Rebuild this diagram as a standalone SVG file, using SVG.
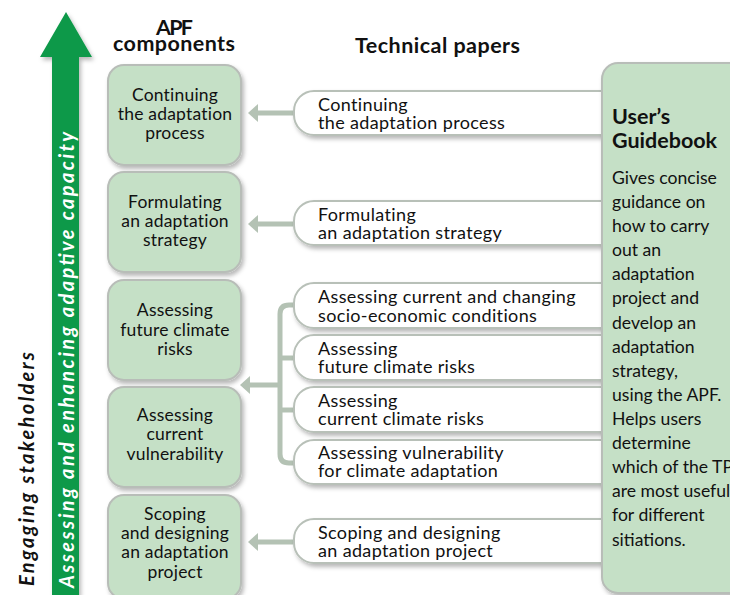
<svg xmlns="http://www.w3.org/2000/svg" width="730" height="595" viewBox="0 0 730 595">
<defs>
<filter id="sh" x="-10%" y="-10%" width="130%" height="140%">
<feDropShadow dx="2" dy="3" stdDeviation="2" flood-color="#000" flood-opacity="0.28"/>
</filter>
<marker id="ah" markerWidth="4" markerHeight="4" refX="1" refY="2" orient="auto" markerUnits="strokeWidth">
<path d="M0,0.2 L2,2 L0,3.8 Z" fill="#b4c2b4"/>
</marker>
<style>
text{font-family:Lato,"Liberation Sans",sans-serif;fill:#111}
.apf{fill:#c5e0c6;stroke:#b8bdb8;stroke-width:2}
.apf-t{font-size:17.5px;letter-spacing:0.2px;text-anchor:middle}
.tp{fill:#fff;stroke:#b8c0b8;stroke-width:2}
.tp-t{font-size:18px;letter-spacing:0.35px}
.hd{font-size:21.5px;font-weight:bold}
.con{fill:none;stroke:#b4c2b4;stroke-width:5}
.gb-t{font-size:17.6px}
</style>
</defs>
<rect width="730" height="595" fill="#fff"/>

<g id="green-arrow">
<polygon points="66,12 92,57 79,57 79,595 52,595 52,57 40,57" fill="#11994a" filter="url(#sh)"/>
<text transform="translate(73.5,588) rotate(-90)" font-size="20" font-weight="bold" font-style="italic" style="fill:#fff" textLength="456">Assessing and enhancing adaptive capacity</text>
</g>
<g id="engaging">
<text transform="translate(34,586) rotate(-90)" font-size="20" font-weight="bold" font-style="italic" textLength="234">Engaging stakeholders</text>
</g>

<g id="headers">
<text class="hd" x="156" y="35" textLength="37">APF</text>
<text class="hd" x="113" y="51" textLength="122">components</text>
<text class="hd" x="355" y="53" textLength="165">Technical papers</text>
</g>

<g id="connectors">
<line class="con" x1="293" y1="113" x2="253" y2="113" marker-end="url(#ah)"/>
<line class="con" x1="293" y1="224" x2="253" y2="224" marker-end="url(#ah)"/>
<path class="con" d="M295,305 H289 Q280,305 280,314 V454 Q280,463 289,463 H295"/>
<line class="con" x1="280" y1="358" x2="295" y2="358"/>
<line class="con" x1="280" y1="410" x2="295" y2="410"/>
<line class="con" x1="282" y1="385" x2="245" y2="385" marker-end="url(#ah)"/>
<line class="con" x1="293" y1="542" x2="253" y2="542" marker-end="url(#ah)"/>
</g>

<g id="apf1"><rect class="apf" x="108" y="65" width="133" height="100" rx="16" filter="url(#sh)"/>
<text class="apf-t" x="175" y="101">Continuing</text><text class="apf-t" x="175" y="120">the adaptation</text><text class="apf-t" x="175" y="139">process</text></g>
<g id="apf2"><rect class="apf" x="108" y="172" width="133" height="100" rx="16" filter="url(#sh)"/>
<text class="apf-t" x="175" y="208">Formulating</text><text class="apf-t" x="175" y="227">an adaptation</text><text class="apf-t" x="175" y="246">strategy</text></g>
<g id="apf3"><rect class="apf" x="108" y="280" width="133" height="100" rx="16" filter="url(#sh)"/>
<text class="apf-t" x="175" y="316">Assessing</text><text class="apf-t" x="175" y="336">future climate</text><text class="apf-t" x="175" y="355">risks</text></g>
<g id="apf4"><rect class="apf" x="108" y="387" width="133" height="100" rx="16" filter="url(#sh)"/>
<text class="apf-t" x="175" y="421">Assessing</text><text class="apf-t" x="175" y="440">current</text><text class="apf-t" x="175" y="460">vulnerability</text></g>
<g id="apf5"><rect class="apf" x="108" y="495" width="133" height="104" rx="16" filter="url(#sh)"/>
<text class="apf-t" x="175" y="520">Scoping</text><text class="apf-t" x="175" y="539">and designing</text><text class="apf-t" x="175" y="558">an adaptation</text><text class="apf-t" x="175" y="578">project</text></g>

<g id="tp1"><rect class="tp" x="294" y="91" width="360" height="44" rx="20" filter="url(#sh)"/>
<text class="tp-t" x="318" y="111">Continuing</text><text class="tp-t" x="318" y="129">the adaptation process</text></g>
<g id="tp2"><rect class="tp" x="294" y="201" width="360" height="44" rx="20" filter="url(#sh)"/>
<text class="tp-t" x="318" y="221">Formulating</text><text class="tp-t" x="318" y="239">an adaptation strategy</text></g>
<g id="tp3"><rect class="tp" x="294" y="283" width="360" height="45" rx="20" filter="url(#sh)"/>
<text class="tp-t" x="318" y="303">Assessing current and changing</text><text class="tp-t" x="318" y="322">socio-economic conditions</text></g>
<g id="tp4"><rect class="tp" x="294" y="335" width="360" height="45" rx="20" filter="url(#sh)"/>
<text class="tp-t" x="318" y="355">Assessing</text><text class="tp-t" x="318" y="373">future climate risks</text></g>
<g id="tp5"><rect class="tp" x="294" y="387" width="360" height="45" rx="20" filter="url(#sh)"/>
<text class="tp-t" x="318" y="407">Assessing</text><text class="tp-t" x="318" y="425">current climate risks</text></g>
<g id="tp6"><rect class="tp" x="294" y="440" width="360" height="44" rx="20" filter="url(#sh)"/>
<text class="tp-t" x="318" y="459">Assessing vulnerability</text><text class="tp-t" x="318" y="477">for climate adaptation</text></g>
<g id="tp7"><rect class="tp" x="294" y="519" width="360" height="44" rx="20" filter="url(#sh)"/>
<text class="tp-t" x="318" y="539">Scoping and designing</text><text class="tp-t" x="318" y="557">an adaptation project</text></g>

<g id="guidebook">
<rect class="apf" x="602" y="63" width="150" height="530" rx="16" filter="url(#sh)"/>
<text x="612" y="124" font-size="21.5" font-weight="bold">User’s</text>
<text x="612" y="148" font-size="21.5" font-weight="bold">Guidebook</text>
<text class="gb-t" x="612" y="184">Gives concise</text>
<text class="gb-t" x="612" y="208">guidance on</text>
<text class="gb-t" x="612" y="232">how to carry</text>
<text class="gb-t" x="612" y="256">out an</text>
<text class="gb-t" x="612" y="280">adaptation</text>
<text class="gb-t" x="612" y="304">project and</text>
<text class="gb-t" x="612" y="329">develop an</text>
<text class="gb-t" x="612" y="353">adaptation</text>
<text class="gb-t" x="612" y="377">strategy,</text>
<text class="gb-t" x="612" y="401">using the APF.</text>
<text class="gb-t" x="612" y="425">Helps users</text>
<text class="gb-t" x="612" y="449">determine</text>
<text class="gb-t" x="612" y="473">which of the TP</text>
<text class="gb-t" x="612" y="497">are most useful</text>
<text class="gb-t" x="612" y="521">for different</text>
<text class="gb-t" x="612" y="546">sitiations.</text>
</g>
</svg>
